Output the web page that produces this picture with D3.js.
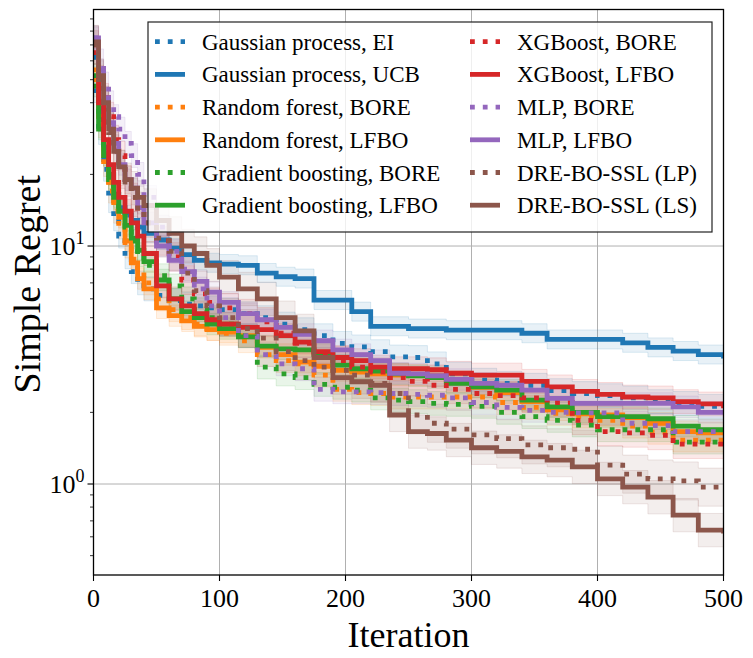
<!DOCTYPE html>
<html>
<head>
<meta charset="utf-8">
<script src="https://cdn.jsdelivr.net/npm/d3@7"></script>
<style>
  body { margin: 0; background: #fff; }
</style>
</head>
<body>
<script>
// iterations at which the best-so-far curves were read
const iters = [0, 4, 8, 12, 16, 20, 25, 30, 35, 40, 50, 60, 70, 80, 90, 100, 115, 130, 145, 160,
  175, 190, 205, 220, 235, 250, 265, 280, 300, 320, 340, 360, 380, 400, 420, 440, 460, 480, 500];

// mean simple regret per method
const gpEI = [45, 30, 21, 15.5, 13, 11, 9, 7.8, 7, 6.6, 6.2, 5.9, 5.7, 5.6, 5.5, 5.4, 5.2, 5.0, 4.7, 4.45,
  4.2, 3.9, 3.77, 3.6, 3.42, 3.4, 3.2, 2.9, 2.73, 2.65, 2.6, 2.47, 2.4, 2.35, 2.3, 2.22, 2.18, 2.12, 2.1];
const gpUCB = [62, 38, 26, 20, 16.5, 14.5, 13.5, 12.8, 12, 11.3, 10.6, 9.8, 9.2, 8.7, 8.5, 8.4, 8.3, 7.7, 7.43, 7.3,
  5.93, 5.93, 5.3, 4.6, 4.6, 4.5, 4.5, 4.43, 4.43, 4.43, 4.3, 4.05, 4.05, 4.05, 3.92, 3.75, 3.62, 3.5, 3.37];
const rfBORE = [50, 32, 22, 17, 14, 12, 10, 8.8, 7.8, 7.0, 6.0, 5.4, 5.0, 4.7, 4.5, 4.3, 4.0, 3.5, 3.3, 3.2,
  2.87, 2.5, 2.42, 2.4, 2.32, 2.32, 2.32, 2.32, 2.32, 2.2, 2.1, 1.98, 1.93, 1.85, 1.75, 1.65, 1.53, 1.53, 1.53];
const rfLFBO = [55, 35, 24, 18.5, 15.5, 13.2, 10.5, 8.5, 7.3, 6.6, 5.5, 5.1, 4.85, 4.6, 4.45, 4.35, 4.2, 3.75, 3.5, 3.25,
  3.12, 3.0, 2.95, 2.9, 2.87, 2.87, 2.85, 2.7, 2.55, 2.42, 2.22, 2.05, 1.97, 1.95, 1.9, 1.8, 1.66, 1.64, 1.63];
const gbBORE = [52, 34, 25, 19, 16, 14, 12, 10.5, 9.2, 8.3, 7.5, 6.8, 6.0, 5.4, 5.0, 4.7, 4.2, 3.1, 2.9, 2.8,
  2.62, 2.55, 2.48, 2.3, 2.25, 2.22, 2.18, 2.16, 2.12, 2.0, 1.92, 1.85, 1.77, 1.69, 1.69, 1.69, 1.5, 1.5, 1.5];
const gbLFBO = [47, 31, 24, 20, 16.5, 14, 12.2, 10.8, 9.6, 8.6, 7.2, 6.0, 5.3, 5.0, 4.7, 4.5, 4.15, 3.8, 3.7, 3.66,
  3.5, 3.16, 3.05, 2.98, 2.9, 2.85, 2.8, 2.65, 2.56, 2.48, 2.25, 2.11, 2.0, 1.92, 1.92, 1.88, 1.75, 1.69, 1.69];
const xgbBORE = [70, 50, 42, 35, 28, 24, 19, 16, 14, 12.5, 10.5, 9, 7.2, 6.3, 5.8, 5.5, 5.2, 4.8, 4.3, 3.9,
  3.55, 3.3, 3.1, 2.95, 2.8, 2.7, 2.6, 2.5, 2.4, 2.35, 2.3, 2.2, 1.85, 1.66, 1.64, 1.6, 1.47, 1.47, 1.47];
const xgbLFBO = [65, 40, 28, 22, 18.5, 16, 14, 12.5, 11, 9.3, 6.8, 6.0, 5.6, 5.2, 4.9, 4.7, 4.55, 4.45, 4.2, 3.95,
  3.6, 3.4, 3.3, 3.1, 3.05, 3.05, 3.02, 2.92, 2.87, 2.87, 2.7, 2.56, 2.45, 2.38, 2.32, 2.3, 2.22, 2.17, 2.08];
const mlpBORE = [75, 60, 48, 40, 35, 31, 27, 24, 20, 16, 12, 9.5, 8, 6.6, 5.6, 5.0, 4.2, 3.5, 3.2, 3.05,
  2.5, 2.44, 2.44, 2.42, 2.4, 2.38, 2.36, 2.3, 2.2, 2.1, 2.04, 2.0, 1.99, 1.99, 1.8, 1.76, 1.66, 1.66, 1.66];
const mlpLFBO = [75, 55, 42, 33, 27, 22, 19, 17.5, 14.5, 12.5, 10, 8.7, 7.8, 7.1, 6.4, 5.8, 5.2, 4.9, 4.55, 4.25,
  4.0, 3.66, 3.5, 3.3, 2.92, 2.9, 2.85, 2.75, 2.65, 2.6, 2.48, 2.29, 2.18, 2.18, 2.18, 2.18, 2.11, 2.0, 1.98];
const lpSSL = [70, 50, 38, 30, 25, 21, 18, 16, 14, 12.5, 10.8, 9.5, 7.7, 6.5, 5.6, 5.0, 4.5, 4.1, 3.6, 3.3,
  3.1, 3.0, 2.87, 2.65, 2.4, 1.95, 1.8, 1.7, 1.61, 1.55, 1.46, 1.42, 1.4, 1.2, 1.1, 1.05, 1.03, 0.97, 0.97];
const lsSSL = [72, 52, 40, 31, 25, 21.5, 19, 17.5, 16, 14.8, 12.8, 11.3, 10, 9.3, 8.3, 7.4, 6.6, 6.0, 5.0, 4.4,
  3.4, 2.8, 2.69, 2.6, 1.95, 1.66, 1.63, 1.53, 1.42, 1.37, 1.3, 1.26, 1.18, 1.05, 0.97, 0.88, 0.74, 0.64, 0.62];

const labels = ['Gaussian process, EI', 'Gaussian process, UCB', 'Random forest, BORE', 'Random forest, LFBO',
  'Gradient boosting, BORE', 'Gradient boosting, LFBO', 'XGBoost, BORE', 'XGBoost, LFBO',
  'MLP, BORE', 'MLP, LFBO', 'DRE-BO-SSL (LP)', 'DRE-BO-SSL (LS)'];
const colors = ['#1f77b4', '#1f77b4', '#ff7f0e', '#ff7f0e', '#2ca02c', '#2ca02c',
  '#d62728', '#d62728', '#9467bd', '#9467bd', '#8c564b', '#8c564b'];
const dotted = [true, false, true, false, true, false, true, false, true, false, true, false];
// half width of the shaded band, in decades
const bandWidth = [0.05, 0.04, 0.05, 0.045, 0.05, 0.045, 0.06, 0.05, 0.05, 0.045, 0.08, 0.07];

const xTicks = [0, 100, 200, 300, 400, 500];
const yMajor = [1, 10];

const series = [gpEI, gpUCB, rfBORE, rfLFBO, gbBORE, gbLFBO, xgbBORE, xgbLFBO, mlpBORE, mlpLFBO, lpSSL, lsSSL];

const W = 753, H = 658,
  L = 93.5, R = 723.5, T = 9.5, B = 575;

let svg = d3.select(document.body).append('svg')
  .attr('width', W)
  .attr('height', H)
  .attr('font-family', "'Liberation Serif', 'Times New Roman', Tinos, 'Noto Serif', 'DejaVu Serif', serif");

let x = d3.scaleLinear().domain([0, 500]).range([L, R]);
let y = d3.scaleLog().domain([0.4146, 98.6]).range([B, T]);

svg.append('defs').append('clipPath').attr('id', 'plot')
  .append('rect')
  .attr('x', L).attr('y', T)
  .attr('width', R - L).attr('height', B - T);

// grid
let grid = svg.append('g').attr('stroke', '#b0b0b0').attr('stroke-width', 1);
grid.selectAll('.gx').data(xTicks.slice(1, -1)).enter().append('line')
  .attr('x1', d => x(d)).attr('x2', d => x(d))
  .attr('y1', T).attr('y2', B);
grid.selectAll('.gy').data(yMajor).enter().append('line')
  .attr('x1', L).attr('x2', R)
  .attr('y1', d => y(d)).attr('y2', d => y(d));

// bands and lines
let plot = svg.append('g').attr('clip-path', 'url(#plot)');

let band = d3.area()
  .curve(d3.curveStepAfter)
  .x((d, i) => x(iters[i]));
let line = d3.line()
  .curve(d3.curveStepAfter)
  .x((d, i) => x(iters[i]))
  .y(d => y(d));

series.forEach((s, k) => {
  let f = Math.pow(10, bandWidth[k]);
  plot.append('path')
    .attr('d', band.y0(d => y(d / f)).y1(d => y(d * f))(s))
    .attr('fill', colors[k])
    .attr('fill-opacity', 0.1)
    .attr('stroke', colors[k])
    .attr('stroke-opacity', 0.14)
    .attr('stroke-width', 1);
});

series.forEach((s, k) => {
  plot.append('path')
    .attr('d', line(s))
    .attr('fill', 'none')
    .attr('stroke', colors[k])
    .attr('stroke-width', 4.8)
    .attr('stroke-dasharray', dotted[k] ? '4.8,8' : null);
});

// axes frame
svg.append('rect')
  .attr('x', L).attr('y', T)
  .attr('width', R - L).attr('height', B - T)
  .attr('fill', 'none')
  .attr('stroke', '#000')
  .attr('stroke-width', 1.3);

// x ticks
let xt = svg.append('g');
xt.selectAll('line').data(xTicks).enter().append('line')
  .attr('x1', d => x(d)).attr('x2', d => x(d))
  .attr('y1', B).attr('y2', B + 6)
  .attr('stroke', '#000').attr('stroke-width', 1.1);
xt.selectAll('text').data(xTicks).enter().append('text')
  .attr('x', d => x(d))
  .attr('y', B + 32)
  .attr('text-anchor', 'middle')
  .attr('font-size', 26)
  .text(d => d);

// y ticks, major and minor
let yAll = y.ticks().filter(d => d >= y.domain()[0] && d <= y.domain()[1]);
let yt = svg.append('g');
yt.selectAll('line').data(yAll).enter().append('line')
  .attr('x1', d => L - (yMajor.includes(d) ? 6 : 3.5)).attr('x2', L)
  .attr('y1', d => y(d)).attr('y2', d => y(d))
  .attr('stroke', '#000')
  .attr('stroke-width', d => (yMajor.includes(d) ? 1.1 : 0.8));
let ylab = yt.selectAll('text').data(yMajor).enter().append('text')
  .attr('x', L - 9)
  .attr('y', d => y(d) + 9)
  .attr('text-anchor', 'end')
  .attr('font-size', 26);
ylab.append('tspan').text('10');
ylab.append('tspan')
  .attr('dy', -11)
  .attr('font-size', 18)
  .text(d => Math.round(Math.log10(d)));

// axis titles
svg.append('text')
  .attr('x', (L + R) / 2)
  .attr('y', 647)
  .attr('text-anchor', 'middle')
  .attr('font-size', 36)
  .text('Iteration');
svg.append('text')
  .attr('transform', `translate(40, ${(T + B) / 2 - 8}) rotate(-90)`)
  .attr('text-anchor', 'middle')
  .attr('font-size', 38)
  .text('Simple Regret');

// legend
let lg = svg.append('g');
lg.append('rect')
  .attr('x', 148).attr('y', 22)
  .attr('width', 564).attr('height', 210)
  .attr('fill', '#fff').attr('fill-opacity', 0.8)
  .attr('stroke', '#222').attr('stroke-width', 1.2);

let item = lg.selectAll('.item').data(labels).enter().append('g')
  .attr('transform', (d, i) => `translate(${i < 6 ? 155 : 470}, ${41.7 + (i % 6) * 32.7})`);
item.append('line')
  .attr('x1', 0).attr('x2', 30)
  .attr('stroke', (d, i) => colors[i])
  .attr('stroke-width', 4.8)
  .attr('stroke-dasharray', (d, i) => (dotted[i] ? '4.8,8' : null));
item.append('text')
  .attr('x', 47)
  .attr('dy', '0.35em')
  .attr('font-size', 23)
  .text(d => d);
</script>
</body>
</html>
